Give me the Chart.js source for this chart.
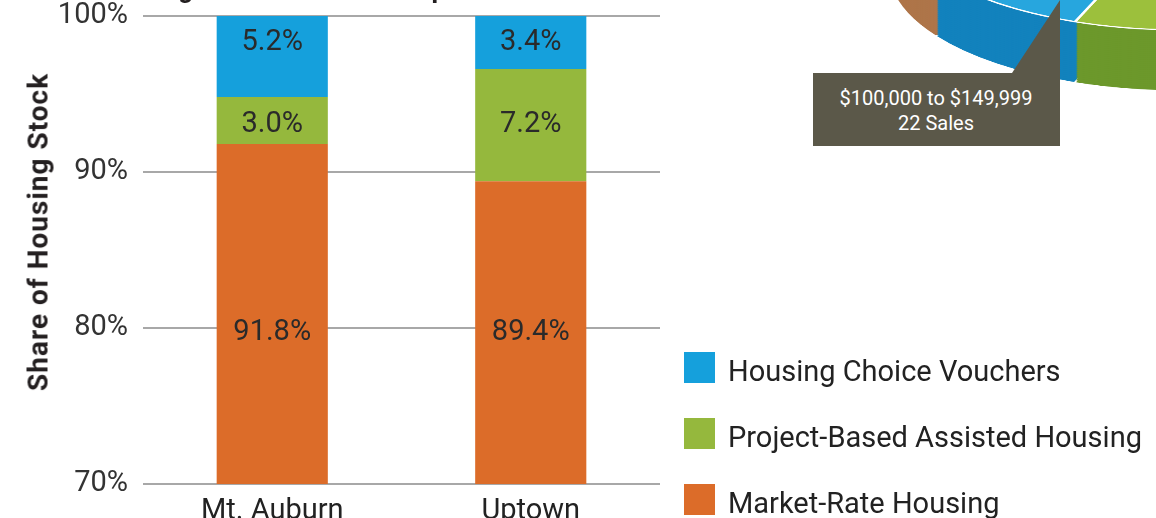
<!DOCTYPE html>
<html>
<head>
<meta charset="utf-8">
<title>Housing in Mt. Auburn and Uptown Area</title>
<script src="https://cdn.jsdelivr.net/npm/chart.js@4.4.1/dist/chart.umd.min.js"></script>
<style>
  html, body { margin: 0; padding: 0; background: #fff; }
  body {
    width: 1156px; height: 518px; overflow: hidden; position: relative;
    font-family: Roboto, 'Noto Sans', sans-serif; color: #231f20;
  }
  #stockWrap { position: absolute; left: 0; top: -40px; width: 700px; height: 584px; }
  #yTitle {
    position: absolute; left: 38px; top: 232px;
    transform: translate(-50%, -50%) rotate(-90deg);
    font-weight: 700; font-size: 28px; letter-spacing: 1px; white-space: nowrap;
  }
  #legend { position: absolute; left: 684px; top: 352px; }
  .item { display: flex; align-items: center; height: 31px; margin-bottom: 35px; }
  .swatch { width: 31px; height: 31px; margin-right: 13px; }
  .item span { font-size: 29px; color: #222; white-space: nowrap; position: relative; top: 3px; }
  .pieLayer { position: absolute; left: 888px; width: 584px; height: 584px; transform-origin: 0 0; transform: scaleY(0.4138); }
  #callout {
    position: absolute; left: 813px; top: 0; width: 247px; height: 146px; background: #5b5849;
    clip-path: polygon(0 73px, 199px 73px, 247px 0, 247px 146px, 0 146px);
  }
  #callout div {
    position: absolute; left: 0; top: 86px; width: 246px; text-align: center;
    color: #fff; font-size: 20px; line-height: 25px;
  }
</style>
</head>
<body>
<div id="pieLayers"></div>
<div id="callout"><div id="calloutText"></div></div>
<div id="stockWrap"><canvas id="stock"></canvas></div>
<div id="yTitle">Share of Housing Stock</div>
<div id="legend"></div>
<script>
// Housing stock shares by neighborhood (percent)
const neighborhoods = ['Mt. Auburn', 'Uptown'];
const marketRate = [91.8, 89.4];
const projectBased = [3.0, 7.2];
const vouchers = [5.2, 3.4];
const yTicks = [70, 80, 90, 100];

const seriesNames = ['Market-Rate Housing', 'Project-Based Assisted Housing', 'Housing Choice Vouchers'];
const seriesColors = ['#dc6c29', '#95b83d', '#15a0dc'];

// Home sales by price range (pie in the corner)
const priceRanges = ['Under $50,000', '$50,000 to $99,999', '$100,000 to $149,999', '$150,000 to $199,999', '$200,000 and Over'];
const salesCounts = [64, 48, 22, 30, 58];
const sliceTop = ['#8a7fa8', '#9cc03c', '#27a6de', '#c48a5a', '#e2b43a'];
const sliceSide = ['#665c80', '#6c982b', '#1282bd', '#ae7549', '#b98d22'];
const highlighted = 2;

const FONT = 'Roboto, "Noto Sans", sans-serif';

// Value labels: one row per series, lined up on the last bar's segment
const rowLabels = {
    id: 'rowLabels',
    afterDatasetsDraw(chart) {
        const { ctx, chartArea } = chart;
        ctx.save();
        ctx.font = '29px ' + FONT;
        ctx.fillStyle = '#2a2a2a';
        ctx.textAlign = 'center';
        ctx.textBaseline = 'middle';
        chart.data.datasets.forEach((ds, i) => {
            const bars = chart.getDatasetMeta(i).data;
            const p = bars[bars.length - 1].getProps(['y', 'base'], true);
            const top = Math.max(Math.min(p.y, p.base), chartArea.top);
            const bottom = Math.min(Math.max(p.y, p.base), chartArea.bottom);
            const y = (top + bottom) / 2;
            bars.forEach((b, j) => ctx.fillText(ds.data[j].toFixed(1) + '%', b.x, y));
        });
        ctx.restore();
    }
};

const seriesData = [marketRate, projectBased, vouchers];

new Chart(document.getElementById('stock'), {
    type: 'bar',
    data: {
        labels: neighborhoods,
        datasets: seriesData.map((values, i) => ({
            label: seriesNames[i],
            data: values,
            backgroundColor: seriesColors[i],
            borderWidth: 0,
            barPercentage: 1,
            categoryPercentage: 0.43
        }))
    },
    options: {
        responsive: true,
        maintainAspectRatio: false,
        animation: false,
        events: [],
        layout: { padding: { left: 0, right: 40, top: 0, bottom: 0 } },
        plugins: {
            legend: { display: false },
            tooltip: { enabled: false },
            title: {
                display: true,
                text: 'Housing in Mt. Auburn and Uptown Area',
                color: '#231f20',
                font: { family: FONT, size: 26, weight: 'bold', lineHeight: 1.2 },
                padding: { top: 15.6, bottom: 9.2 }
            }
        },
        scales: {
            x: {
                stacked: true,
                grid: { display: false },
                border: { display: false },
                ticks: { color: '#222', font: { family: FONT, size: 29 }, padding: 2 },
                afterFit: s => { s.height = 60; }
            },
            y: {
                stacked: true,
                min: yTicks[0],
                max: yTicks[yTicks.length - 1],
                afterBuildTicks: s => { s.ticks = yTicks.map(v => ({ value: v })); },
                grid: { color: '#a8a8a8', lineWidth: 2, drawTicks: false },
                border: { display: false },
                ticks: {
                    color: '#333',
                    font: { family: FONT, size: 29 },
                    padding: 15,
                    callback: v => v + '%'
                },
                afterFit: s => { s.width = 143; }
            }
        }
    },
    plugins: [rowLabels]
});

// Legend, top series first
const legend = document.getElementById('legend');
for (let i = seriesNames.length - 1; i >= 0; i--) {
    const item = document.createElement('div');
    item.className = 'item';
    item.innerHTML = '<div class="swatch" style="background:' + seriesColors[i] + '"></div><span>' + seriesNames[i] + '</span>';
    legend.appendChild(item);
}

// Tilted pie: stacked darker layers make the rim, lighter layer on top
const PIE_TOP = -210.8;
const PIE_RADIUS = 290;
const pieLayers = document.getElementById('pieLayers');
function addPieLayer(offset, colors, isTop) {
    const wrap = document.createElement('div');
    wrap.className = 'pieLayer';
    wrap.style.top = (PIE_TOP + offset) + 'px';
    const canvas = document.createElement('canvas');
    canvas.width = 584;
    canvas.height = 584;
    wrap.appendChild(canvas);
    pieLayers.appendChild(wrap);
    new Chart(canvas, {
        type: 'pie',
        data: {
            labels: priceRanges,
            datasets: [{
                data: salesCounts,
                backgroundColor: colors,
                borderColor: '#fff',
                borderWidth: isTop ? 3 : 0,
                spacing: isTop ? 0 : 2
            }]
        },
        options: {
            responsive: false,
            animation: false,
            events: [],
            rotation: 19.6,
            radius: PIE_RADIUS,
            layout: { padding: 0 },
            plugins: { legend: { display: false }, tooltip: { enabled: false } }
        }
    });
}
for (let k = 60; k > 0; k -= 2) addPieLayer(k, sliceSide, false);
addPieLayer(0, sliceTop, true);

document.getElementById('calloutText').innerHTML =
    priceRanges[highlighted] + '<br>' + salesCounts[highlighted] + ' Sales';
</script>
</body>
</html>
